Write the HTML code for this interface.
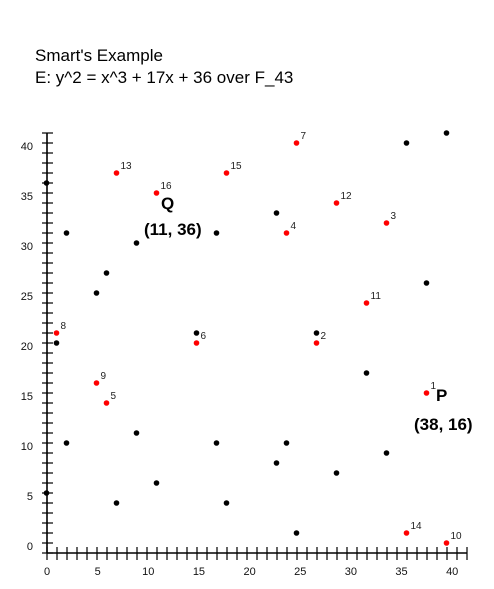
<!DOCTYPE html>
<html><head><meta charset="utf-8"><style>
body{margin:0;background:#fff;}
svg{display:block;font-family:"Liberation Sans",sans-serif;}
</style></head><body>
<svg id="chart" width="494" height="589" viewBox="0 0 494 589">
<text x="35" y="61" font-size="17" fill="#000">Smart's Example</text>
<text x="35" y="83" font-size="17" fill="#000">E: y^2 = x^3 + 17x + 36 over F_43</text>
<g id="axes"></g>
<g id="marks"></g>
</svg>
<script>
const curveXs=[40,36,0,2,17,23,9,6,5,38,1,15,27,32,9,2,17,24,23,29,34,11,0,7,18,25];
const curveYs=[42,41,37,32,32,34,31,28,26,27,21,22,22,18,12,11,11,11,9,8,10,7,6,5,5,2];
const multLabels=[1,2,3,4,5,6,7,8,9,10,11,12,13,14,15,16];
const multXs=[38,27,34,24,6,15,25,1,5,40,32,29,7,36,18,11];
const multYs=[16,21,33,32,15,21,41,22,17,1,25,35,38,2,38,36];
const xTicks=[0,5,10,15,20,25,30,35,40];
const yTicks=[0,5,10,15,20,25,30,35,40];
const NS="http://www.w3.org/2000/svg";
const sx=v=>46.5+v*10;
const sy=v=>553-v*10;
function mk(tag,attrs,parent){const e=document.createElementNS(NS,tag);for(const k in attrs)e.setAttribute(k,attrs[k]);parent.appendChild(e);return e;}
const axes=document.getElementById('axes'),marks=document.getElementById('marks');
let l=mk('line',{x1:47,y1:553,x2:467,y2:553,stroke:'#000','stroke-width':1.6},axes);


l=mk('line',{x1:47,y1:133,x2:47,y2:553,stroke:'#000','stroke-width':1.6},axes);


for(let i=0;i<=42;i++){const t=mk('line',{x1:47+i*10,y1:547,x2:47+i*10,y2:560,stroke:'#000','stroke-width':1.2},axes);

}
for(let i=0;i<=42;i++){const t=mk('line',{x1:42,y1:133+i*10,x2:53,y2:133+i*10,stroke:'#000','stroke-width':1.2},axes);

}
xTicks.forEach(v=>{const t=mk('text',{x:47+v*10.13,y:575,'font-size':11,'text-anchor':'middle',fill:'#111'},axes);t.textContent=v;

});
yTicks.forEach(v=>{const t=mk('text',{x:33,y:550-v*10,'font-size':11,'text-anchor':'end',fill:'#111'},axes);t.textContent=v;

});
curveXs.forEach((x,i)=>{const c=mk('circle',{cx:sx(x),cy:sy(curveYs[i]),r:2.8,fill:'#000'},marks);

});
multXs.forEach((x,i)=>{const c=mk('circle',{cx:sx(x),cy:sy(multYs[i]),r:2.8,fill:'#f00'},marks);


const t=mk('text',{x:sx(x)+4,y:sy(multYs[i])-4,'font-size':10,fill:'#222'},marks);t.textContent=multLabels[i];

});
function big(txt,x,y,name){const t=mk('text',{x:x,y:y,'font-size':17,fill:'#000','font-weight':'bold'},marks);t.textContent=txt;

}
big('Q',161,209,'q-label');big('(11, 36)',144,235,'q-coords');
big('P',436,401,'p-label');big('(38, 16)',414,430,'p-coords');
</script>
</body></html>
